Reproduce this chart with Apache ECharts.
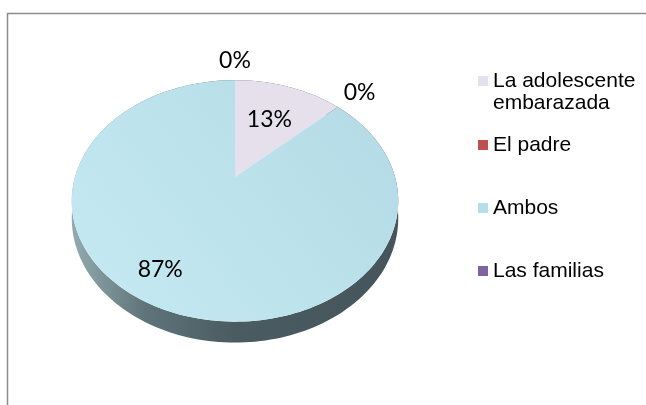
<!DOCTYPE html>
<html>
<head>
<meta charset="utf-8">
<script src="https://cdn.jsdelivr.net/npm/echarts@6/dist/echarts.min.js"></script>
<style>
  html, body { margin: 0; padding: 0; background: #fff; }
  #main { width: 646px; height: 405px; }
</style>
</head>
<body>
<div id="main"></div>
<script>
// datos del grafico
var categories = ['La adolescente embarazada', 'El padre', 'Ambos', 'Las familias'];
// linea vacia al inicio: el icono queda a la altura de la primera linea de texto
var legendNames = ['\nLa adolescente\nembarazada', 'El padre', 'Ambos', 'Las familias'];
var values = [13, 0, 87, 0];

// estilo
var palette = ['#e5e0ec', '#c0504d', '#b7dee8', '#8064a2'];
var CX = 235, CY = 177;      // vertice del pastel
var RX = 160, RY = 116;      // radios
var K = 0.198;               // perspectiva
var DEPTH = 16.8;            // grosor

var total = values.reduce(function (s, v) { return s + v; }, 0);
var starts = [];
var acc = 0;
values.forEach(function (v) {
  starts.push(acc / total * 2 * Math.PI);
  acc += v;
});

function project(f, phi) {
  var w = 1 + K * f * Math.cos(phi);
  return [CX + RX * f * Math.sin(phi) / w, CY - RY * f * Math.cos(phi) / w];
}

var sideFill = new echarts.graphic.LinearGradient(72, 0, 398, 0, [
  { offset: 0, color: '#93abb0' },
  { offset: 0.22, color: '#5f757b' },
  { offset: 0.5, color: '#4a5b61' },
  { offset: 1, color: '#45555b' }
], true);
var topFills = [
  palette[0],
  palette[1],
  new echarts.graphic.LinearGradient(100, 320, 380, 90, [
    { offset: 0, color: '#c4e9f3' },
    { offset: 1, color: '#b4dbe5' }
  ], true),
  palette[3]
];

function renderSlice(params, api) {
  var i = params.dataIndex;
  var v = api.value(0);
  var a0 = starts[i];
  var a1 = a0 + v / total * 2 * Math.PI;
  var children = [];
  if (v > 0) {
    var top = [[CX, CY]], rim = [], base = [];
    var n = Math.max(2, Math.ceil((a1 - a0) / (Math.PI / 120)));
    for (var j = 0; j <= n; j++) {
      var p = a0 + (a1 - a0) * j / n;
      var pt = project(1, p);
      top.push(pt);
      rim.push(pt);
      base.push([pt[0], pt[1] + DEPTH / (1 + K * Math.cos(p))]);
    }
    children.push({
      type: 'polygon', z2: 1,
      shape: { points: rim.concat(base.reverse()) },
      style: { fill: sideFill }
    });
    children.push({
      type: 'polygon', z2: 5,
      shape: { points: top },
      style: { fill: topFills[i] }
    });
  }
  // etiqueta de porcentaje
  var mid = (a0 + a1) / 2;
  var lp;
  if (v === 0) {
    lp = project(1.25, a0);
  } else if (v / total > 0.5) {
    lp = project(0.8, mid + 0.12);
  } else {
    lp = project(0.6, mid);
  }
  children.push({
    type: 'text', z2: 10,
    style: {
      text: Math.round(v / total * 100) + '%',
      x: lp[0], y: lp[1],
      align: 'center', verticalAlign: 'middle',
      fontFamily: 'Lato', fontSize: 23, fill: '#000'
    }
  });
  return { type: 'group', children: children };
}

var myChart = echarts.init(document.getElementById('main'));
var legendText = {
  fontFamily: 'Liberation Sans', fontSize: 21, color: '#000', lineHeight: 22
};
function legendFormatter(name) {
  return legendNames[categories.indexOf(name)];
}
myChart.setOption({
  animation: false,
  color: palette,
  graphic: [{
    type: 'rect',
    shape: { x: 7.5, y: 13.5, width: 800, height: 600 },
    style: { fill: 'none', stroke: '#8c8c8c', lineWidth: 1.5 },
    silent: true
  }],
  legend: [{
    orient: 'vertical',
    left: 478, top: 48, padding: 0,
    icon: 'rect', itemWidth: 10, itemHeight: 10,
    selectedMode: false,
    textStyle: legendText,
    formatter: legendFormatter,
    data: [categories[0]]
  }, {
    orient: 'vertical',
    left: 478, top: 134, padding: 0,
    icon: 'rect', itemWidth: 10, itemHeight: 10, itemGap: 41,
    selectedMode: false,
    textStyle: legendText,
    formatter: legendFormatter,
    data: categories.slice(1)
  }],
  series: [{
    // solo para la leyenda
    type: 'pie',
    radius: [0, 0],
    center: [CX, CY],
    silent: true,
    label: { show: false },
    labelLine: { show: false },
    data: categories.map(function (c, i) { return { name: c, value: values[i] }; })
  }, {
    type: 'custom',
    coordinateSystem: 'none',
    silent: true,
    renderItem: renderSlice,
    data: values
  }]
});
</script>
</body>
</html>
